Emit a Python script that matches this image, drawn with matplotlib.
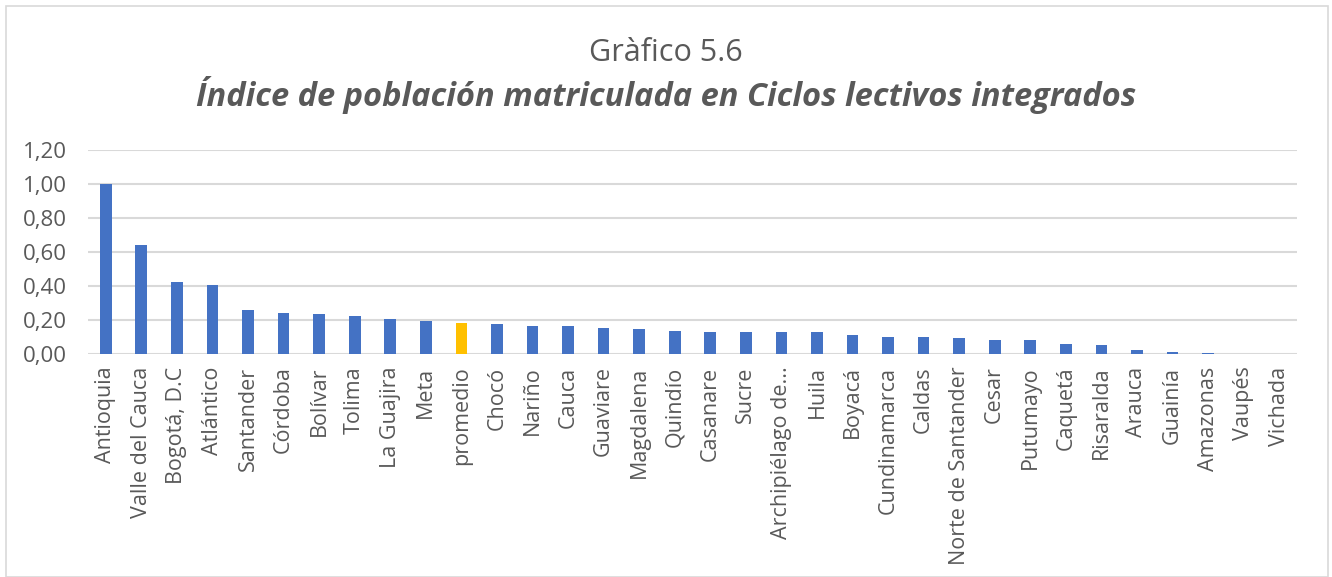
import matplotlib.pyplot as plt
from matplotlib.patches import Rectangle

# Data
departamentos = ['Antioquia', 'Valle del Cauca', 'Bogotá, D.C', 'Atlántico', 'Santander',
                 'Córdoba', 'Bolívar', 'Tolima', 'La Guajira', 'Meta', 'promedio',
                 'Chocó', 'Nariño', 'Cauca', 'Guaviare', 'Magdalena', 'Quindío',
                 'Casanare', 'Sucre', 'Archipiélago de...', 'Huila', 'Boyacá',
                 'Cundinamarca', 'Caldas', 'Norte de Santander', 'Cesar', 'Putumayo',
                 'Caquetá', 'Risaralda', 'Arauca', 'Guainía', 'Amazonas', 'Vaupés', 'Vichada']
indice = [1.00, 0.643, 0.424, 0.404, 0.261, 0.241, 0.235, 0.225, 0.206, 0.194, 0.182,
          0.176, 0.163, 0.163, 0.151, 0.145, 0.135, 0.127, 0.127, 0.127, 0.127, 0.112,
          0.100, 0.098, 0.094, 0.084, 0.080, 0.057, 0.051, 0.024, 0.012, 0.005, 0.0, 0.0]
y_ticks = [0.0, 0.2, 0.4, 0.6, 0.8, 1.0, 1.2]

azul = '#4472c4'
amarillo = '#ffc000'
gris = '#595959'

plt.rcParams['font.family'] = ['Open Sans', 'DejaVu Sans']

fig = plt.figure(figsize=(13.32, 5.77), dpi=100)
ax = fig.add_axes([88 / 1332, 1 - 354 / 577, (1297 - 88) / 1332, (354 - 150) / 577])

colores = [amarillo if d == 'promedio' else azul for d in departamentos]
x = range(len(departamentos))
ax.bar(x, indice, width=0.33, color=colores, zorder=3)

ax.set_ylim(0, 1.2)
ax.set_xlim(-0.5, len(departamentos) - 0.5)
ax.set_yticks(y_ticks)
ax.set_yticklabels([f'{v:.2f}'.replace('.', ',') for v in y_ticks], fontsize=16, color=gris)
ax.set_xticks(list(x))
ax.set_xticklabels(departamentos, rotation=90, fontsize=15.5, color=gris)
ax.tick_params(length=0, pad=9)
ax.tick_params(axis='y', pad=15)
ax.grid(axis='y', color='#d9d9d9', linewidth=1.5, zorder=0)
for s in ax.spines.values():
    s.set_visible(False)

# titles, positioned by baseline
fig.text(0.5, 1 - 61 / 577, 'Gràfico 5.6', ha='center', va='baseline', fontsize=22, color=gris)
fig.text(0.5, 1 - 106 / 577, 'Índice de población matriculada en Ciclos lectivos integrados',
         ha='center', va='baseline', fontsize=23.5, color=gris, fontweight='bold', style='italic')

fig.patches.append(Rectangle((6 / 1332, 0), 1322 / 1332, 1 - 6 / 577, transform=fig.transFigure,
                             fill=False, edgecolor='#d9d9d9', linewidth=1.2))

fig.savefig('out.png', dpi=100)
